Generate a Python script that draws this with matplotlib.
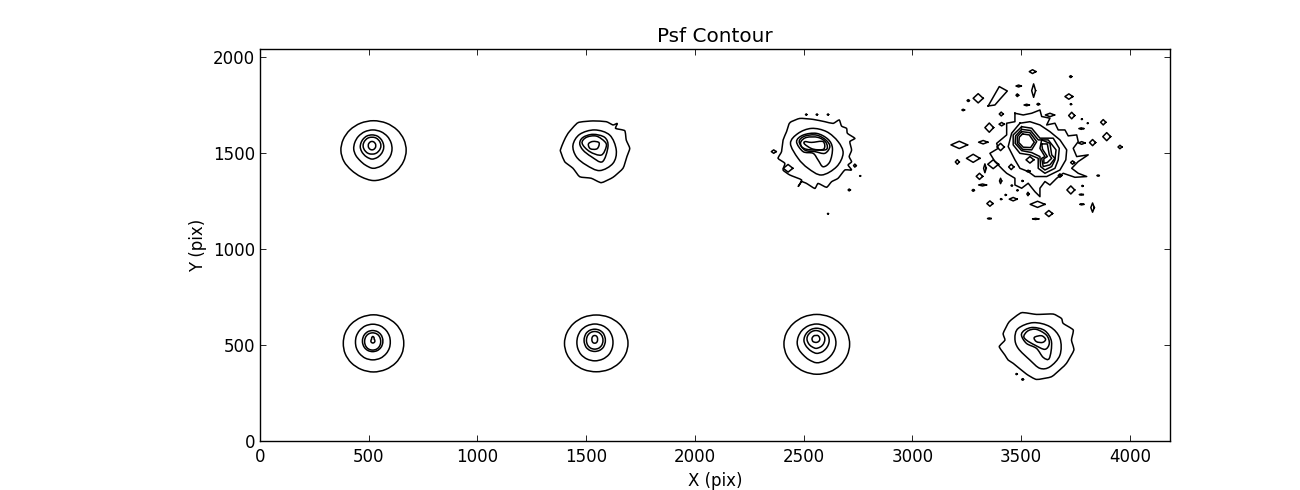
import numpy as np
import matplotlib
matplotlib.use("Agg")
import matplotlib.pyplot as plt
from matplotlib.path import Path
from matplotlib.patches import PathPatch

title = "Psf Contour"
x_label = "X (pix)"
y_label = "Y (pix)"
x_ticks = [0, 500, 1000, 1500, 2000, 2500, 3000, 3500, 4000]
y_ticks = [0, 500, 1000, 1500, 2000]

# Near-round contours: centre x, centre y, radii at equal angles from east, counter-clockwise
psf1_rings = [
    (522, 1514, [150, 151, 153, 155, 156, 155, 153, 151, 150, 147, 144, 148, 156, 153, 150, 149]),
    (519, 1522, [88, 90, 94, 98, 100, 98, 94, 90, 88, 85, 84, 90, 100, 96, 90, 88]),
    (515, 1533, [54, 55, 58, 62, 63, 62, 58, 55, 54, 53, 54, 58, 63, 60, 56, 54]),
    (515, 1540, [41, 41, 42, 44, 44, 44, 42, 41, 41, 41, 42, 44, 44, 44, 42, 41]),
    (515, 1540, [17, 18, 19, 21, 22, 21, 19, 18, 17, 18, 19, 21, 22, 21, 19, 18]),
]
psf5_rings = [
    (522, 509, [139, 141, 144, 147, 149, 147, 144, 141, 139, 141, 144, 147, 149, 147, 144, 141]),
    (519, 516, [80, 82, 86, 91, 93, 91, 86, 82, 80, 82, 86, 91, 93, 91, 86, 82]),
    (518, 521, [47, 48, 51, 54, 55, 54, 51, 48, 47, 48, 51, 54, 55, 54, 51, 48]),
    (518, 519, [37, 38, 41, 44, 45, 44, 41, 38, 37, 38, 41, 44, 45, 44, 41, 38]),
    (519, 526, [8, 8, 8, 14, 19, 14, 8, 8, 8, 10, 12, 14, 15, 14, 12, 10]),
]
psf6_rings = [
    (1546, 509, [146, 146, 147, 148, 148, 148, 147, 146, 146, 146, 147, 148, 148, 148, 147, 146]),
    (1540, 514, [83, 85, 90, 94, 96, 94, 90, 85, 83, 85, 90, 94, 96, 94, 90, 85]),
    (1539, 525, [49, 50, 54, 57, 58, 57, 54, 50, 49, 50, 54, 57, 58, 57, 54, 50]),
    (1539, 525, [38, 39, 42, 45, 46, 45, 42, 39, 38, 39, 42, 45, 46, 45, 42, 39]),
    (1539, 530, [13, 14, 16, 19, 20, 19, 16, 14, 13, 14, 16, 19, 20, 19, 16, 14]),
]
psf7_rings = [
    (2560, 504, [151, 152, 153, 155, 156, 155, 153, 152, 151, 150, 150, 153, 156, 155, 153, 151]),
    (2559, 509, [89, 91, 95, 99, 101, 99, 95, 91, 89, 87, 86, 92, 101, 98, 92, 89]),
    (2559, 523, [58, 59, 61, 64, 65, 64, 61, 59, 58, 56, 56, 60, 66, 64, 60, 58]),
    (2556, 530, [41, 42, 43, 45, 46, 45, 43, 42, 41, 40, 41, 43, 47, 45, 43, 41]),
    (2556, 532, [18, 18, 19, 20, 18, 19, 18, 18, 18, 18, 19, 18, 18, 18, 18, 18]),
]

# Irregular contours, as x and y lists in pixel units of the plot's axes
psf2_x = [
    [1462, 1531, 1592, 1623, 1643, 1635, 1677, 1684, 1700, 1687, 1669, 1623, 1569, 1523, 1470, 1439, 1401, 1385, 1381, 1396, 1416],
    [1439, 1470, 1539, 1608, 1638, 1623, 1562, 1500, 1454],
    [1470, 1485, 1531, 1585, 1600, 1574, 1523, 1485],
    [1481, 1500, 1546, 1585, 1592, 1569, 1516],
    [1510, 1531, 1559, 1550, 1519],
]
psf2_y = [
    [1660, 1669, 1665, 1648, 1656, 1630, 1618, 1569, 1526, 1483, 1422, 1375, 1347, 1370, 1378, 1422, 1456, 1500, 1517, 1561, 1604],
    [1543, 1599, 1622, 1595, 1517, 1448, 1410, 1439, 1483],
    [1552, 1583, 1599, 1583, 1535, 1456, 1483, 1517],
    [1552, 1583, 1590, 1561, 1535, 1491, 1509],
    [1549, 1562, 1555, 1524, 1524],
]
psf3_x = [
    [2436, 2482, 2543, 2597, 2635, 2663, 2674, 2697, 2701, 2735, 2712, 2720, 2709, 2720, 2704, 2720, 2689, 2658, 2628, 2605, 2566, 2551, 2513, 2490, 2474, 2490, 2436, 2405, 2413, 2382, 2398, 2405, 2421],
    [2439, 2474, 2536, 2605, 2658, 2681, 2651, 2582, 2520, 2474],
    [2467, 2497, 2559, 2612, 2632, 2620, 2589, 2566, 2543, 2497],
    [2479, 2505, 2559, 2602, 2620, 2597, 2551, 2505],
    [2487, 2513, 2566, 2602, 2605, 2559, 2513, 2490],
    [2505, 2536, 2589, 2592, 2543, 2505],
]
psf3_y = [
    [1660, 1682, 1677, 1665, 1656, 1674, 1642, 1630, 1604, 1578, 1561, 1517, 1483, 1456, 1439, 1413, 1413, 1370, 1352, 1323, 1343, 1317, 1343, 1352, 1326, 1361, 1387, 1413, 1448, 1474, 1509, 1569, 1613],
    [1552, 1604, 1630, 1613, 1561, 1500, 1430, 1387, 1422, 1474],
    [1561, 1595, 1604, 1573, 1526, 1456, 1430, 1465, 1500, 1509],
    [1561, 1590, 1595, 1569, 1535, 1500, 1509, 1517],
    [1561, 1583, 1583, 1557, 1521, 1517, 1521, 1535],
    [1561, 1557, 1561, 1522, 1522, 1547],
]
psf4_x = [
    [3471, 3509, 3548, 3586, 3594, 3632, 3617, 3655, 3670, 3701, 3716, 3755, 3762, 3739, 3755, 3808, 3762, 3732, 3762, 3801, 3747, 3693, 3663, 3632, 3609, 3586, 3586, 3563, 3532, 3502, 3471, 3471, 3433, 3417, 3379, 3356, 3394, 3387, 3433, 3433, 3471],
    [3494, 3540, 3586, 3632, 3678, 3709, 3705, 3678, 3617, 3563, 3532, 3494, 3471, 3440, 3456],
    [3502, 3548, 3586, 3647, 3675, 3670, 3655, 3609, 3578, 3578, 3540, 3494, 3463, 3463],
    [3502, 3543, 3578, 3624, 3660, 3655, 3640, 3609, 3589, 3586, 3548, 3502, 3472, 3474],
    [3502, 3540, 3571, 3548, 3506, 3482, 3482],
    [3506, 3537, 3560, 3543, 3509, 3489, 3491],
    [3594, 3632, 3640, 3655, 3632, 3601, 3594, 3609, 3586],
    [3594, 3620, 3629, 3640, 3620, 3604, 3604, 3620, 3598],
    [3348, 3399, 3436, 3402, 3379],
]
psf4_y = [
    [1709, 1700, 1709, 1726, 1692, 1683, 1648, 1657, 1622, 1622, 1591, 1596, 1561, 1526, 1483, 1492, 1457, 1422, 1396, 1379, 1375, 1396, 1370, 1335, 1353, 1318, 1274, 1300, 1344, 1318, 1335, 1370, 1396, 1413, 1457, 1500, 1526, 1552, 1596, 1657, 1665],
    [1657, 1665, 1648, 1613, 1570, 1518, 1466, 1413, 1379, 1379, 1405, 1422, 1466, 1535, 1605],
    [1639, 1631, 1579, 1579, 1526, 1466, 1422, 1396, 1422, 1474, 1492, 1500, 1544, 1596],
    [1625, 1619, 1570, 1570, 1518, 1466, 1431, 1413, 1431, 1483, 1504, 1514, 1552, 1591],
    [1613, 1608, 1561, 1518, 1521, 1552, 1587],
    [1601, 1596, 1558, 1530, 1532, 1556, 1584],
    [1570, 1552, 1492, 1474, 1440, 1431, 1474, 1483, 1526],
    [1549, 1549, 1492, 1474, 1452, 1448, 1472, 1483, 1521],
    [1747, 1848, 1825, 1782, 1752],
]
psf8_x = [
    [3501, 3570, 3647, 3685, 3693, 3739, 3731, 3742, 3708, 3685, 3639, 3570, 3524, 3463, 3440, 3425, 3399, 3425, 3417, 3445],
    [3471, 3486, 3555, 3632, 3678, 3678, 3632, 3586, 3540, 3486],
    [3501, 3517, 3555, 3609, 3639, 3629, 3601, 3570, 3524],
    [3512, 3532, 3570, 3616, 3629, 3609, 3563, 3524],
    [3560, 3593, 3612, 3598, 3570],
]
psf8_y = [
    [669, 660, 662, 639, 613, 579, 526, 474, 405, 379, 335, 321, 349, 405, 422, 448, 492, 526, 561, 622],
    [535, 587, 617, 596, 535, 448, 387, 379, 422, 483],
    [552, 579, 592, 575, 518, 431, 436, 483, 509],
    [547, 575, 582, 552, 509, 478, 500, 526],
    [540, 549, 530, 514, 518],
]

# Small isolated contours: centre x, centre y, half width, half height
blobs = [
    (3552, 1926, 15, 10), (3727, 1900, 5, 5), (3488, 1851, 12, 5), (3557, 1827, 9, 35),
    (3302, 1787, 23, 24), (3482, 1803, 6, 7), (3719, 1796, 18, 14), (3256, 1775, 5, 5),
    (3578, 1756, 6, 5), (3525, 1752, 12, 4), (3728, 1756, 3, 3), (3233, 1726, 6, 4),
    (3408, 1705, 9, 10), (3632, 1700, 21, 9), (3732, 1697, 14, 17), (3877, 1662, 12, 14),
    (3778, 1678, 2, 2), (3805, 1657, 2, 2), (3410, 1652, 12, 9), (3353, 1634, 20, 24),
    (3776, 1629, 11, 4), (3893, 1587, 18, 21), (3325, 1558, 21, 9), (3778, 1554, 15, 7),
    (3828, 1556, 14, 16), (3215, 1544, 38, 19), (3954, 1533, 9, 9), (3405, 1533, 17, 19),
    (3279, 1474, 31, 21), (3206, 1455, 9, 12), (3371, 1443, 25, 23), (3454, 1429, 12, 14),
    (3333, 1422, 6, 23), (3532, 1407, 8, 5), (3736, 1452, 9, 9), (3308, 1380, 15, 16),
    (3678, 1384, 8, 9), (3405, 1356, 5, 14), (3853, 1384, 5, 3), (3505, 1356, 3, 3),
    (3322, 1335, 18, 5), (3456, 1332, 3, 3), (3781, 1330, 3, 3), (3279, 1307, 5, 5),
    (3728, 1309, 18, 21), (3482, 1307, 3, 3), (3531, 1288, 5, 9), (3428, 1283, 3, 3),
    (3776, 1285, 9, 3), (3407, 1261, 3, 3), (3463, 1261, 18, 9), (3356, 1238, 14, 14),
    (3575, 1234, 34, 16), (3778, 1234, 9, 3), (3828, 1217, 8, 24), (3627, 1186, 17, 16),
    (3353, 1160, 8, 3), (3566, 1158, 14, 3), (3540, 1466, 18, 17),
    (2362, 1509, 11, 9), (2428, 1422, 22, 20), (2511, 1702, 3, 3), (2560, 1702, 3, 3),
    (2611, 1702, 3, 3), (2735, 1436, 6, 8), (2709, 1309, 5, 5), (2759, 1382, 2, 2),
    (2611, 1185, 2, 2), (3478, 349, 3, 3), (3506, 321, 4, 4),
]

LINE = dict(color="black", lw=1.1, solid_joinstyle="round")

fig = plt.figure(figsize=(13, 4.9), dpi=100)
ax = fig.add_axes([0.2, 0.1, 0.7, 0.8])


def closed(seq):
    return list(seq) + [seq[0]]


def curve(xv, yv, tension):
    """Closed curve through the contour's vertices, drawn as a Bezier path."""
    p = np.column_stack([xv, yv]).astype(float)
    prev, nxt, nxt2 = np.roll(p, 1, 0), np.roll(p, -1, 0), np.roll(p, -2, 0)
    c1 = p + (nxt - prev) * tension
    c2 = nxt - (nxt2 - p) * tension
    verts = [p[0]]
    codes = [Path.MOVETO]
    for a, b, e in zip(c1, c2, nxt):
        verts += [a, b, e]
        codes += [Path.CURVE4] * 3
    ax.add_patch(PathPatch(Path(verts, codes), fill=False, edgecolor="black", lw=LINE["lw"]))


for rings in (psf1_rings, psf5_rings, psf6_rings, psf7_rings):
    for cx, cy, radii in rings:
        r = np.array(radii, dtype=float)
        a = np.linspace(0, 2 * np.pi, len(r), endpoint=False)
        curve(cx + r * np.cos(a), cy + r * np.sin(a), 1 / 6)

for xs, ys in ((psf2_x, psf2_y), (psf3_x, psf3_y), (psf8_x, psf8_y)):
    for i, (rx, ry) in enumerate(zip(xs, ys)):
        curve(rx, ry, 1 / 12 if i == 0 else 1 / 6)

for rx, ry in zip(psf4_x, psf4_y):
    ax.plot(closed(rx), closed(ry), **LINE)

for cx, cy, hw, hh in blobs:
    ax.plot([cx + hw, cx, cx - hw, cx, cx + hw],
            [cy, cy + hh, cy, cy - hh, cy], **LINE)

ax.set_xlim(0, 4184)
ax.set_ylim(0, 2044)
ax.set_xticks(x_ticks)
ax.set_yticks(y_ticks)
ax.tick_params(direction="in", top=True, right=True, length=4, width=0.6, labelsize=12)
ax.tick_params(axis="x", pad=5)
ax.tick_params(axis="y", pad=3.5)
for s in ax.spines.values():
    s.set_linewidth(1.0)
ax.set_title(title, fontsize=14.4, pad=5.2)
ax.set_xlabel(x_label, fontsize=12, labelpad=4)
ax.set_ylabel(y_label, fontsize=12, labelpad=4)
fig.savefig("out.png", dpi=100)
